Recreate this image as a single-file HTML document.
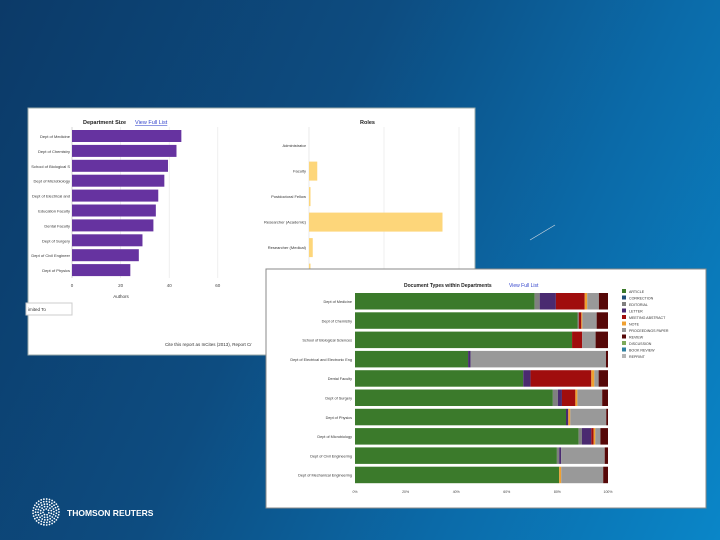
<!DOCTYPE html>
<html><head><meta charset="utf-8"><style>
body{margin:0;width:720px;height:540px;overflow:hidden;font-family:"Liberation Sans",sans-serif}
#bg{position:absolute;left:0;top:0;width:720px;height:540px;background:linear-gradient(115deg,#0c3a68 0%,#0d4c80 40%,#0b6aa8 70%,#0a86c8 100%)}
svg text{font-family:"Liberation Sans",sans-serif}
</style></head><body>
<div id="bg"></div>
<svg id="s" width="720" height="540" style="position:absolute;left:0;top:0">
<rect x="28" y="108" width="447" height="247" fill="#fff" stroke="#9aa"/>
<text x="83" y="124" font-size="5.5" font-weight="bold" fill="#222">Department Size</text>
<text x="135" y="124" font-size="5.5" fill="#3344cc" text-decoration="underline">View Full List</text>
<text x="360" y="124" font-size="5.5" font-weight="bold" fill="#222">Roles</text>
<text x="121" y="298" font-size="4.5" fill="#333" text-anchor="middle">Authors</text>
<rect x="26" y="303" width="46" height="12" fill="#fff" stroke="#ccc"/>
<text x="28" y="311" font-size="4.5" fill="#333">imited To</text>
<text x="165" y="346" font-size="4.5" fill="#333">Cite this report as InCites (2013), Report Cr</text>
<g id="g1"></g><g id="g2"></g>
<line x1="530" y1="240" x2="555" y2="225" stroke="#cfd8e0" stroke-width="0.7"/>
<rect x="266" y="269" width="440" height="239" fill="#fff" stroke="#888"/>
<text x="404" y="287" font-size="5" font-weight="bold" fill="#222">Document Types within Departments</text>
<text x="509" y="287" font-size="5" fill="#3344cc">View Full List</text>
<g id="g3"></g>
<g>
<g id="logo"></g>
<text x="67" y="516" font-size="8.5" font-weight="bold" fill="#fff">THOMSON REUTERS</text>
</g>
</svg>
<script>
const NS="http://www.w3.org/2000/svg";
function mk(p,t,a){const e=document.createElementNS(NS,t);for(const k in a)e.setAttribute(k,a[k]);p.appendChild(e);return e;}
// Department size
const deptCats=["Dept of Medicine","Dept of Chemistry","School of Biological Sciences","Dept of Microbiology","Dept of Electrical and Electronic Eng","Education Faculty","Dental Faculty","Dept of Surgery","Dept of Civil Engineering","Dept of Physics"];
const deptVals=[45,43,39.5,38,35.5,34.5,33.5,29,27.5,24];
const deptTicks=[0,20,40,60];
const g1=document.getElementById('g1');
const x1=v=>72+v*2.43, y1=i=>130+i*14.9;
deptTicks.forEach(t=>{let l=mk(g1,'line',{x1:x1(t),x2:x1(t),y1:127,y2:278,stroke:t?'#e4e4e4':'#bbb','stroke-width':0.6});

let tx=mk(g1,'text',{x:x1(t),y:287,'font-size':4.5,fill:'#444','text-anchor':'middle'});tx.textContent=t;
});
deptCats.forEach((c,i)=>{let r=mk(g1,'rect',{x:x1(0),y:y1(i),width:x1(deptVals[i])-x1(0),height:12,fill:'#6633a0'});

let tx=mk(g1,'text',{x:70,y:y1(i)+8,'font-size':4,fill:'#333','text-anchor':'end'});tx.textContent=c.length>22?c.slice(0,22):c;
});
// Roles
const roleCats=["Administrator","Faculty","Postdoctoral Fellow","Researcher (Academic)","Researcher (Medical)","Student"];
const roleVals=[0,11,2,178,5,2];
const g2=document.getElementById('g2');
const x2=v=>309+v*0.75, y2=i=>131+i*25.5;
[0,100,200].forEach(t=>{let l=mk(g2,'line',{x1:x2(t),x2:x2(t),y1:127,y2:290,stroke:t?'#e4e4e4':'#ddd','stroke-width':0.6});
});
roleCats.forEach((c,i)=>{let r=mk(g2,'rect',{x:x2(0),y:y2(i)+25.5*0.2,width:x2(roleVals[i])-x2(0),height:19,fill:'#fdd67a'});

let tx=mk(g2,'text',{x:306,y:y2(i)+16,'font-size':4,fill:'#333','text-anchor':'end'});tx.textContent=c;
});
// Document types
const docCats=["Dept of Medicine","Dept of Chemistry","School of Biological Sciences","Dept of Electrical and Electronic Eng","Dental Faculty","Dept of Surgery","Dept of Physics","Dept of Microbiology","Dept of Civil Engineering","Dept of Mechanical Engineering"];
const article=[71,88.4,85.8,44.7,66.5,78.2,83.4,88.4,79.8,80.7];
const editorial=[2,0.5,0,0,0,2,0,1.3,0.9,0];
const letter=[6.4,0,0,1,2.9,1.6,0.9,3.7,0.8,0];
const meeting=[11.4,1,4,0,24,5.3,0,0.9,0,0];
const note=[1,0.4,0,0,1.2,0.8,0.8,0.7,0,0.8];
const proceedings=[4.6,5.7,5.3,53.5,1.7,9.8,14.2,2,17.2,16.6];
const review=[3.6,4.5,4.9,0.8,3.7,2.3,0.7,3,1.3,1.9];
const docTicks=[0,20,40,60,80,100];
const legendNames=["ARTICLE","CORRECTION","EDITORIAL","LETTER","MEETING ABSTRACT","NOTE","PROCEEDINGS PAPER","REVIEW","DISCUSSION","BOOK REVIEW","REPRINT"];
const legendCols=["#3b7a2b","#1f4e79","#808080","#4a2a70","#a00d0d","#f0a030","#999","#560808","#7daa5a","#2f7f9f","#b5b5b5"];
const series=[[article,"#3b7a2b"],[editorial,"#808080"],[letter,"#4a2a70"],[meeting,"#a00d0d"],[note,"#f0a030"],[proceedings,"#999"],[review,"#560808"]];
const g3=document.getElementById('g3');
const x3=v=>355+v*2.53, y3=i=>293+i*19.3;
docTicks.forEach(t=>{let tx=mk(g3,'text',{x:x3(t),y:493,'font-size':3.5,fill:'#444','text-anchor':'middle'});tx.textContent=t+'%';
});
docCats.forEach((c,i)=>{let acc=0;const tot=series.reduce((s,[a])=>s+a[i],0);
series.forEach(([a,col])=>{const v=a[i]/tot*100;if(v>0){let r=mk(g3,'rect',{x:x3(acc),y:y3(i),width:x3(acc+v)-x3(acc),height:16.5,fill:col});
}acc+=v;});
let tx=mk(g3,'text',{x:352,y:y3(i)+10,'font-size':3.8,fill:'#333','text-anchor':'end'});tx.textContent=c;
});
legendNames.forEach((n,i)=>{let r=mk(g3,'rect',{x:622,y:289+i*6.5,width:4,height:4,fill:legendCols[i]});

let tx=mk(g3,'text',{x:629,y:293+i*6.5,'font-size':3.6,fill:'#333'});tx.textContent=n;
});
// logo dots
const lg=document.getElementById('logo');
for(let r=3;r<=14;r+=2.5){const n=Math.round(r*2.2);for(let k=0;k<n;k++){const a=k/n*6.283+r;let c=mk(lg,'circle',{cx:46+r*Math.cos(a),cy:512+r*Math.sin(a),r:0.9,fill:'#fff'});
}}
</script>
</body></html>
